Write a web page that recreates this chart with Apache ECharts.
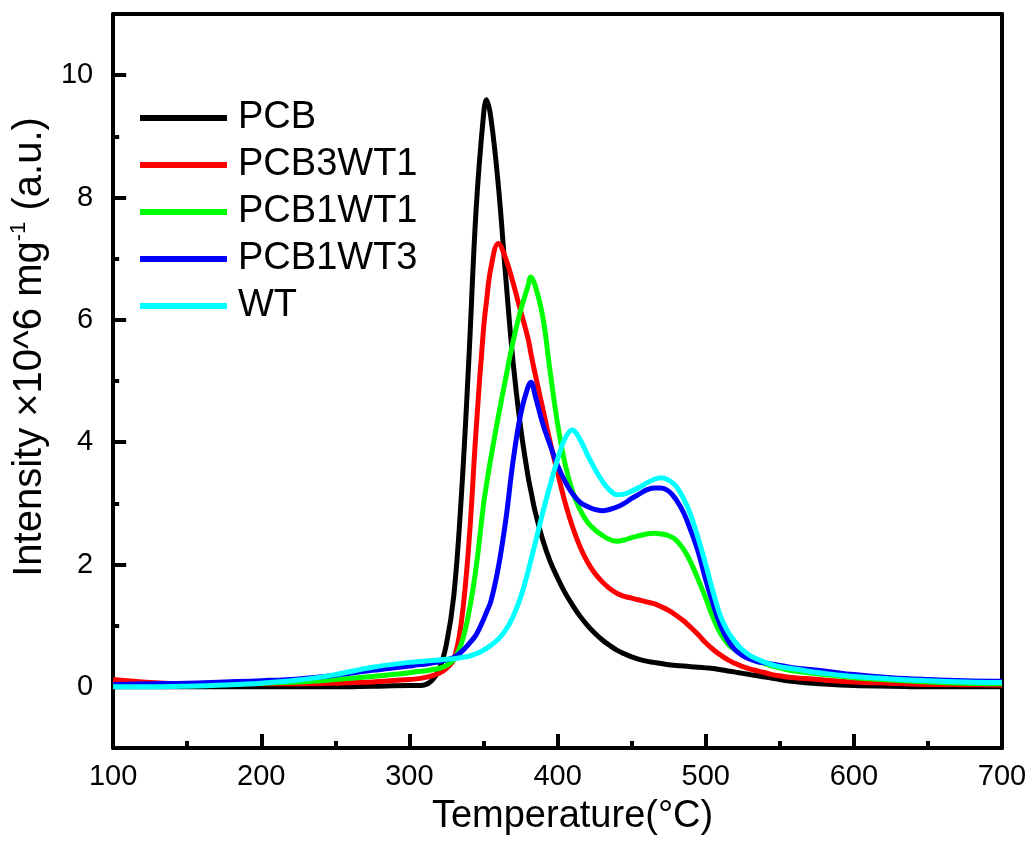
<!DOCTYPE html>
<html><head><meta charset="utf-8">
<script src="https://cdn.jsdelivr.net/npm/echarts@6/dist/echarts.min.js"></script>
<style>html,body{margin:0;padding:0;background:#fff}#c{width:1033px;height:841px}</style>
</head><body><div id="c"></div>
<script>
const temps = [100,125,150,175,200,225,250,275,
  300,305,310,315,320,325,330,335,340,345,
  350,352,355,360,365,370,375,380,382,385,390,395,
  400,405,410,415,420,425,430,435,440,445,
  450,455,460,465,470,475,480,485,490,495,
  500,505,510,515,520,525,530,535,540,545,
  550,555,560,
  580,600,625,650,675,700];
const pcb = [0,0,0,0,0,0,0,0.01,
  0.02,0.02,0.03,0.1,0.28,0.7,1.5,3.1,5.3,7.8,
  9.35,9.6,9.3,8.2,6.7,5.3,4.25,3.45,3.2,2.85,2.4,2.05,
  1.78,1.54,1.34,1.16,1.01,0.88,0.77,0.68,0.6,0.54,
  0.49,0.45,0.42,0.4,0.38,0.36,0.35,0.34,0.33,0.32,
  0.31,0.3,0.28,0.26,0.24,0.22,0.2,0.18,0.16,0.14,
  0.12,0.1,0.085,
  0.045,0.02,0.01,0,0,0];
const pcb3wt1 = [0.12,0.07,0.05,0.05,0.05,0.05,0.06,0.08,
  0.12,0.13,0.15,0.18,0.22,0.3,0.45,1.05,2.3,4.2,
  5.85,6.3,6.85,7.25,7.0,6.6,6.15,5.7,5.45,5.1,4.55,4.0,
  3.5,3.02,2.62,2.3,2.05,1.86,1.72,1.61,1.53,1.48,
  1.45,1.42,1.39,1.36,1.31,1.25,1.17,1.08,0.97,0.85,
  0.72,0.61,0.52,0.44,0.38,0.33,0.29,0.26,0.23,0.2,
  0.18,0.16,0.15,
  0.11,0.08,0.06,0.04,0.035,0.03];
const pcb1wt1 = [0.02,0.03,0.04,0.05,0.06,0.08,0.12,0.17,
  0.23,0.25,0.26,0.28,0.3,0.35,0.45,0.7,1.2,1.95,
  2.98,3.3,3.75,4.42,5.05,5.65,6.15,6.55,6.7,6.55,6.05,5.15,
  4.3,3.65,3.2,2.9,2.7,2.57,2.48,2.41,2.38,2.4,
  2.44,2.47,2.5,2.51,2.5,2.47,2.4,2.25,2.03,1.75,
  1.45,1.13,0.87,0.7,0.6,0.53,0.47,0.42,0.38,0.34,
  0.31,0.28,0.26,
  0.2,0.15,0.11,0.08,0.06,0.05];
const pcb1wt3 = [0.04,0.05,0.06,0.08,0.1,0.13,0.19,0.27,
  0.34,0.36,0.37,0.39,0.41,0.44,0.48,0.57,0.7,0.85,
  1.1,1.22,1.4,1.95,2.72,3.7,4.45,4.9,4.98,4.75,4.3,3.95,
  3.62,3.36,3.16,3.02,2.95,2.9,2.88,2.9,2.94,3.0,
  3.08,3.15,3.22,3.25,3.25,3.2,3.06,2.85,2.55,2.2,
  1.75,1.35,1.0,0.76,0.6,0.51,0.45,0.41,0.39,0.37,
  0.35,0.33,0.31,
  0.26,0.2,0.15,0.12,0.1,0.09];
const wt = [0,0,0.01,0.03,0.06,0.11,0.2,0.32,
  0.4,0.41,0.42,0.43,0.44,0.45,0.46,0.48,0.5,0.54,
  0.6,0.63,0.68,0.78,0.93,1.15,1.46,1.88,2.07,2.36,2.85,3.3,
  3.72,4.06,4.2,4.05,3.8,3.57,3.37,3.22,3.14,3.15,
  3.2,3.26,3.33,3.39,3.42,3.38,3.28,3.08,2.8,2.42,
  2.0,1.55,1.15,0.9,0.73,0.6,0.51,0.45,0.4,0.36,
  0.33,0.31,0.29,
  0.22,0.17,0.13,0.1,0.08,0.07];
const seriesNames = ['PCB','PCB3WT1','PCB1WT1','PCB1WT3','WT'];
const seriesColors = ['#000000','#ff0000','#00ff00','#0000ff','#00ffff'];
const seriesValues = [pcb, pcb3wt1, pcb1wt1, pcb1wt3, wt];
const yMajor = [0,2,4,6,8,10];
const yMinor = [1,3,5,7,9];

const FONT = 'Liberation Sans, Arial, Helvetica, sans-serif';
const chart = echarts.init(document.getElementById('c'));
const axisLine = {show:true, onZero:false, lineStyle:{color:'#000', width:4}};
chart.setOption({
  animation:false,
  backgroundColor:'#fff',
  grid:{left:110, right:31, top:14, bottom:87},
  legend:{
    left:140, top:98, padding:0, orient:'vertical', icon:'rect', itemWidth:87, itemHeight:6, itemGap:7,
    textStyle:{fontFamily:FONT, fontSize:38, color:'#000', lineHeight:40, padding:[0,0,0,6]},
    data:seriesNames
  },
  xAxis:[{
    type:'value', min:100, max:700, interval:100,
    axisLine:axisLine,
    axisTick:{show:true, inside:true, length:14, lineStyle:{width:4, color:'#000'}},
    minorTick:{show:true, splitNumber:2, length:7, lineStyle:{width:4, color:'#000'}},
    splitLine:{show:false},
    axisLabel:{fontFamily:FONT, fontSize:29, color:'#000', margin:14},
    name:'Temperature(°C)', nameLocation:'middle', nameGap:50,
    nameTextStyle:{fontFamily:FONT, fontSize:38, color:'#000', padding:[0,0,0,30]}
  },{
    type:'value', position:'top', min:100, max:700, interval:100,
    axisLine:axisLine, axisTick:{show:false}, axisLabel:{show:false}, splitLine:{show:false}
  }],
  yAxis:[{
    type:'value', min:-1, max:11,
    axisLine:axisLine,
    axisTick:{show:true, inside:true, length:13, customValues:yMajor, lineStyle:{width:4, color:'#000'}},
    axisLabel:{fontFamily:FONT, fontSize:29, color:'#000', margin:20, customValues:yMajor},
    splitLine:{show:false},
    name:'{a|Intensity ×10^6 mg}{s|-1}{a| (a.u.)}', nameLocation:'middle', nameGap:44, nameRotate:90,
    nameTextStyle:{padding:[0,0,0,68], rich:{
      a:{fontFamily:FONT, fontSize:40, color:'#000', lineHeight:44},
      s:{fontFamily:FONT, fontSize:22, color:'#000', verticalAlign:'top', lineHeight:44}
    }}
  },{
    type:'value', position:'left', min:-1, max:11,
    axisLine:{show:false},
    axisTick:{show:true, inside:true, length:6, customValues:yMinor, lineStyle:{width:4, color:'#000'}},
    axisLabel:{show:false}, splitLine:{show:false}
  },{
    type:'value', position:'right', min:-1, max:11,
    axisLine:axisLine, axisTick:{show:false}, axisLabel:{show:false}, splitLine:{show:false}
  }],
  series: seriesNames.map((n,i)=>({
    name:n, type:'line', xAxisIndex:0, yAxisIndex:0,
    data: temps.map((t,j)=>[t, seriesValues[i][j]]),
    showSymbol:false, symbol:'none', smooth:0.4,
    lineStyle:{color:seriesColors[i], width:5},
    itemStyle:{color:seriesColors[i]}
  }))
});
</script></body></html>
